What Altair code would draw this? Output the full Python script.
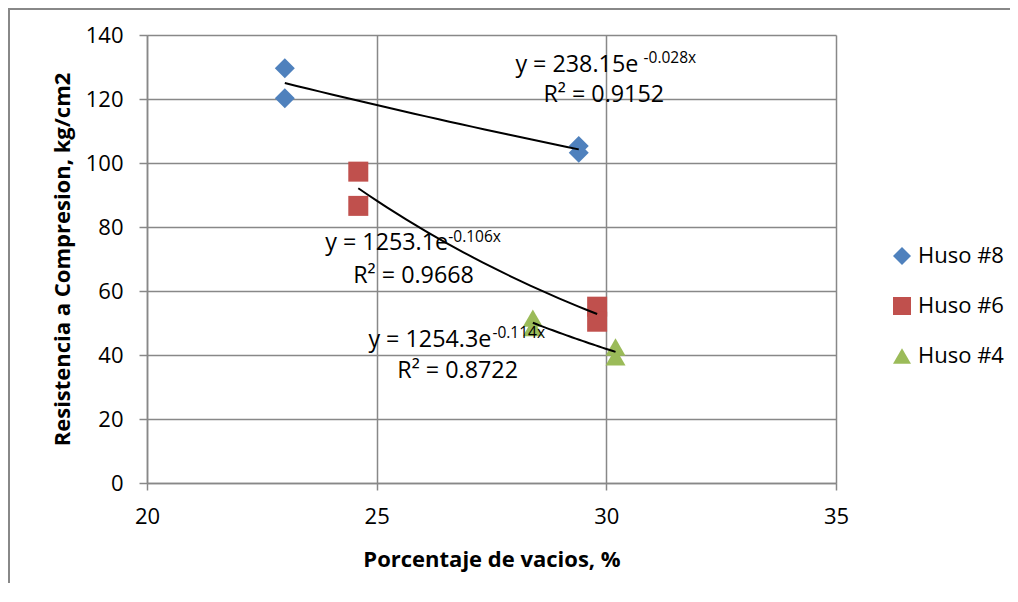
import altair as alt
import pandas as pd

# ---- data ----
series = ["Huso #8"] * 4 + ["Huso #6"] * 4 + ["Huso #4"] * 4
vacios = [23.0, 23.0, 29.4, 29.4, 24.6, 24.6, 29.8, 29.8, 28.4, 28.4, 30.2, 30.2]
resistencia = [129.6, 120.2, 105.3, 103.2, 97.3, 86.6, 55.1, 50.4, 51.5, 48.6, 42.5, 39.4]

series_order = ["Huso #8", "Huso #6", "Huso #4"]
series_colors = ["#4F81BD", "#C0504D", "#9BBB59"]
series_shapes = ["diamond", "square", "triangle-up"]

# trendline labels (Excel-style equation + R²)
eq_main = ["y = 238.15e", "y = 1253.1e", "y = 1254.3e"]
eq_sup = ["-0.028x", "-0.106x", "-0.114x"]
eq_r2 = ["R² = 0.9152", "R² = 0.9668", "R² = 0.8722"]
eq_main_x = [28.02, 23.88, 24.82]
eq_main_y = [128.4, 72.8, 42.5]
eq_sup_x = [30.81, 26.56, 27.52]
eq_sup_y = [131.2, 75.3, 45.3]
eq_r2_x = [28.63, 24.49, 25.45]
eq_r2_y = [119.1, 62.5, 32.8]

x_ticks = [20, 25, 30, 35]
y_ticks = [0, 20, 40, 60, 80, 100, 120, 140]

df = pd.DataFrame({"serie": series, "vacios": vacios, "res": resistencia})
main_df = pd.DataFrame({"t": eq_main, "x": eq_main_x, "y": eq_main_y})
sup_df = pd.DataFrame({"t": eq_sup, "x": eq_sup_x, "y": eq_sup_y})
r2_df = pd.DataFrame({"t": eq_r2, "x": eq_r2_x, "y": eq_r2_y})

FONT = "Open Sans"
GRID = "#888888"

xscale = alt.Scale(domain=[20, 35], nice=False, zero=False)
yscale = alt.Scale(domain=[0, 140], nice=False)

x_enc = alt.X(
    "vacios:Q", scale=xscale,
    axis=alt.Axis(
        title="Porcentaje de vacios, %", values=x_ticks, format="d",
        grid=True, gridColor=GRID, gridWidth=1.5,
        domainColor=GRID, domainWidth=1.5, tickColor=GRID, tickWidth=1.5,
        tickSize=7, labelPadding=16, labelFont=FONT, labelFontSize=22,
        labelColor="#000000", labelFlush=False, titleFont=FONT, titleFontSize=22,
        titleFontWeight="bold", titleColor="#000000",
        titleBaseline="alphabetic", titleY=83,
    ),
)
y_enc = alt.Y(
    "res:Q", scale=yscale,
    axis=alt.Axis(
        title="Resistencia a Compresion, kg/cm2", values=y_ticks, format="d",
        grid=True, gridColor=GRID, gridWidth=1.5,
        domainColor=GRID, domainWidth=1.5, tickColor=GRID, tickWidth=1.5,
        tickSize=8, labelPadding=16, labelFont=FONT, labelFontSize=22,
        labelColor="#000000", labelFlush=False, titleFont=FONT, titleFontSize=22,
        titleFontWeight="bold", titleColor="#000000",
        titleAngle=270, titleBaseline="middle", titleAlign="center",
        titleX=-85, titleY=224,
    ),
)

points = alt.Chart(df).mark_point(filled=True, opacity=1, size=400).encode(
    x=x_enc,
    y=y_enc,
    color=alt.Color(
        "serie:N",
        scale=alt.Scale(domain=series_order, range=series_colors),
        sort=series_order,
        legend=alt.Legend(
            title=None, orient="none", legendX=744, legendY=210,
            labelFont=FONT, labelFontSize=22, labelColor="#000000",
            symbolSize=324, rowPadding=28, labelOffset=5, padding=0,
            symbolStrokeWidth=0,
        ),
    ),
    shape=alt.Shape(
        "serie:N",
        scale=alt.Scale(domain=series_order, range=series_shapes),
        sort=series_order,
    ),
)

trend = (
    alt.Chart(df)
    .transform_regression("vacios", "res", method="exp", groupby=["serie"])
    .mark_line(color="#000000", strokeWidth=2)
    .encode(
        x=alt.X("vacios:Q", scale=xscale),
        y=alt.Y("res:Q", scale=yscale),
        detail="serie:N",
    )
)

def text_layer(data, size):
    return alt.Chart(data).mark_text(
        align="left", baseline="alphabetic", font=FONT, fontSize=size,
        color="#000000",
    ).encode(
        x=alt.X("x:Q", scale=xscale),
        y=alt.Y("y:Q", scale=yscale),
        text="t:N",
    )

border = alt.Chart(pd.DataFrame({"k": [0]})).mark_rule(
    color=GRID, strokeWidth=2
).encode(x=alt.value(-138), y=alt.value(-27), y2=alt.value(600))
border_top = alt.Chart(pd.DataFrame({"k": [0]})).mark_rule(
    color=GRID, strokeWidth=2
).encode(x=alt.value(-138), x2=alt.value(900), y=alt.value(-26))

chart = (
    alt.layer(
        points, trend,
        text_layer(main_df, 23.3), text_layer(sup_df, 15.5), text_layer(r2_df, 23.3),
        border, border_top,
    )
    .resolve_scale(color="shared", shape="shared")
    .properties(
        width=689, height=448,
        autosize=alt.AutoSizeParams(type="none"),
        padding={"left": 139, "top": 27, "right": 174, "bottom": 100},
        background="#ffffff",
    )
    .configure_view(stroke="transparent")
)

chart.save("out.html", embed_options={"renderer": "svg", "actions": False})
